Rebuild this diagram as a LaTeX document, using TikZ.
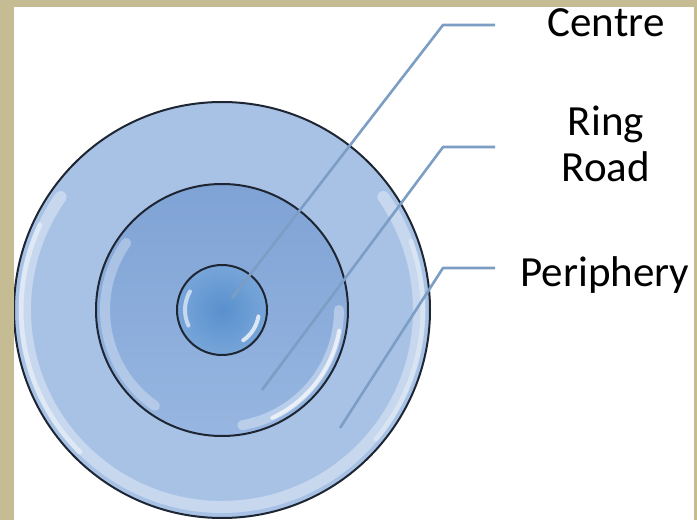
\documentclass[tikz,border=0pt]{standalone}
\usepackage{fontspec}
\setmainfont{Carlito}
\definecolor{framecol}{HTML}{C5BC94}
\definecolor{outerfill}{HTML}{A8C2E6}
\definecolor{midtop}{HTML}{7FA3D5}
\definecolor{midbot}{HTML}{97B6E1}
\definecolor{innerc}{HTML}{5990CD}
\definecolor{innerrim}{HTML}{77A5D9}
\definecolor{edgecol}{HTML}{1E2633}
\definecolor{leadcol}{HTML}{7C9EC4}
\tikzset{
  ringedge/.style={draw=edgecol, line width=2pt},
  gloss/.style={draw=white, line cap=round},
  leader/.style={draw=leadcol, line width=2.6pt, line join=round},
  lbl/.style={font=\fontsize{43}{46}\selectfont, text=black, inner sep=0pt, anchor=base, align=center}
}
\begin{document}
\begin{tikzpicture}[x=1pt,y=1pt]
\useasboundingbox (0,0) rectangle (697,520);
\fill[framecol] (0,0) rectangle (697,520);
\fill[white] (14,0) rectangle (694,513);
\begin{scope}
\clip (14,0) rectangle (694,513);
% outer ring
\node[circle, minimum size=416pt, inner sep=0pt, fill=outerfill] (outer) at (222,210) {};
\draw[gloss, line width=12pt, opacity=0.35] ([shift={(145:197)}]outer.center) arc[start angle=145, end angle=395, radius=197];
\draw[gloss, line width=5pt, opacity=0.45] ([shift={(155:201)}]outer.center) arc[start angle=155, end angle=225, radius=201];
\draw[gloss, line width=5pt, opacity=0.35] ([shift={(-40:201)}]outer.center) arc[start angle=-40, end angle=20, radius=201];
\node[circle, minimum size=416pt, inner sep=0pt, ringedge] at (outer.center) {};
% middle ring
\shade[top color=midtop, bottom color=midbot] (outer.center) circle (126);
\draw[gloss, line width=10pt, opacity=0.3] ([shift={(145:117)}]outer.center) arc[start angle=145, end angle=235, radius=117];
\draw[gloss, line width=10pt, opacity=0.35] ([shift={(-80:117)}]outer.center) arc[start angle=-80, end angle=0, radius=117];
\draw[gloss, line width=4pt, opacity=0.7] ([shift={(-65:119)}]outer.center) arc[start angle=-65, end angle=-10, radius=119];
\node[circle, minimum size=252pt, inner sep=0pt, ringedge] (middle) at (outer.center) {};
% inner circle
\shade[inner color=innerc, outer color=innerrim] (outer.center) circle (45);
\draw[gloss, line width=4pt, opacity=0.6] ([shift={(150:37)}]outer.center) arc[start angle=150, end angle=205, radius=37];
\draw[gloss, line width=4pt, opacity=0.75] ([shift={(-55:37)}]outer.center) arc[start angle=-55, end angle=-10, radius=37];
\node[circle, minimum size=90pt, inner sep=0pt, ringedge] (inner) at (outer.center) {};
\end{scope}
% leader lines
\coordinate (cstart) at (232,222);
\coordinate (cbend) at (443,495);
\coordinate (cend) at (495,495);
\coordinate (rstart) at (262,130);
\coordinate (rbend) at (443,373);
\coordinate (rend) at (495,373);
\coordinate (pstart) at (340,92);
\coordinate (pbend) at (443,252);
\coordinate (pend) at (495,252);
\draw[leader] (cstart) -- (cbend) -- (cend);
\draw[leader] (rstart) -- (rbend) -- (rend);
\draw[leader] (pstart) -- (pbend) -- (pend);
% labels
\node[lbl] (centre) at (606,483) {Centre};
\node[lbl] (ring) at (606,338) {Ring\\Road};
\node[lbl] (periphery) at (605,233) {Periphery};
\end{tikzpicture}
\end{document}
